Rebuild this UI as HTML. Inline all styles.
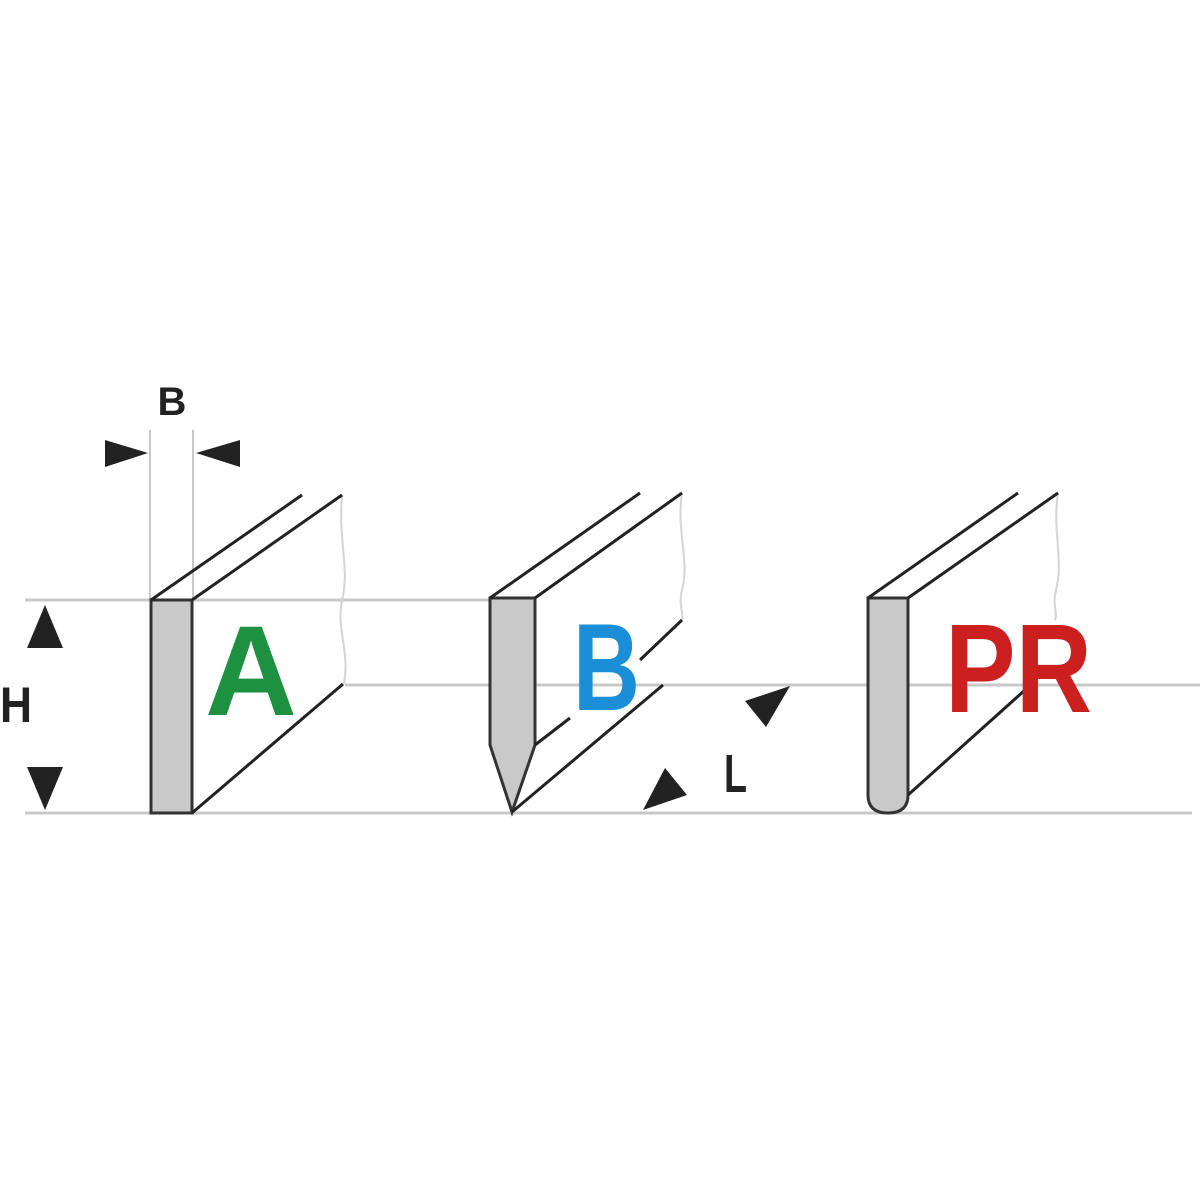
<!DOCTYPE html>
<html><head><meta charset="utf-8"><style>
html,body{margin:0;padding:0;background:#fff;}
svg{display:block;}
text{font-family:"Liberation Sans",sans-serif;font-weight:bold;}
</style></head><body>
<svg width="1200" height="1200" viewBox="0 0 1200 1200">
<rect width="1200" height="1200" fill="#fff"/>
<!-- guide lines -->
<g stroke="#c8c8c8" stroke-width="3" fill="none">
<line x1="25" y1="600" x2="490" y2="600"/>
<line x1="345" y1="685" x2="1200" y2="685"/>
<line x1="25" y1="813" x2="1192" y2="813"/>
<line x1="150" y1="430" x2="150" y2="600" stroke-width="2"/>
<line x1="193" y1="430" x2="193" y2="600" stroke-width="2"/>
</g>
<!-- wavy edges -->
<g stroke="#d4d4d4" stroke-width="2" fill="none">
<path d="M342 495 C338 540 350 570 342 600 C336 630 350 650 344 684"/>
<path d="M682 493 C676 530 690 560 682 590 C678 605 684 612 682 620"/>
<path d="M1058 493 C1052 530 1064 560 1056 590 C1052 605 1058 612 1055 620"/>
</g>
<!-- Blade A -->
<rect x="151" y="600" width="41" height="213" fill="#c9c9c9" stroke="#333" stroke-width="3"/>
<g stroke="#222" stroke-width="3" fill="none">
<line x1="151" y1="600" x2="302" y2="495"/>
<line x1="192" y1="600" x2="342" y2="495"/>
<line x1="192" y1="813" x2="343" y2="684"/>
</g>
<!-- Blade B -->
<path d="M490 598 L535 598 L535 745 L512 812 L490 745 Z" fill="#c9c9c9" stroke="#333" stroke-width="3"/>
<g stroke="#222" stroke-width="3" fill="none">
<line x1="490" y1="598" x2="640" y2="493"/>
<line x1="535" y1="598" x2="682" y2="493"/>
<line x1="535" y1="745" x2="570" y2="718"/>
<line x1="640" y1="660" x2="682" y2="620"/>
<line x1="512" y1="812" x2="663" y2="685"/>
</g>
<!-- Blade PR -->
<path d="M868 598 L908 598 L908 795 Q908 813 888 813 Q868 813 868 795 Z" fill="#c9c9c9" stroke="#333" stroke-width="3"/>
<g stroke="#222" stroke-width="3" fill="none">
<line x1="868" y1="598" x2="1018" y2="493"/>
<line x1="908" y1="598" x2="1058" y2="493"/>
<line x1="908" y1="795" x2="1025" y2="690"/>
</g>
<!-- dimension arrows -->
<g fill="#222">
<polygon points="105,440 148,453 105,467"/>
<polygon points="240,440 196,453 240,467"/>
<polygon points="45,605 27,648 63,648"/>
<polygon points="27,767 63,767 45,810"/>
<polygon points="745,701 790,686 766,727"/>
<polygon points="643,810 665,768 687,795"/>
</g>
<text x="172" y="415" font-size="40" text-anchor="middle" fill="#222">B</text>
<text x="0" y="722" font-size="50" fill="#222" textLength="32" lengthAdjust="spacingAndGlyphs">H</text>
<text x="724" y="792" font-size="54" fill="#222" textLength="23" lengthAdjust="spacingAndGlyphs">L</text>
<!-- letters -->
<text x="205" y="715" font-size="128" fill="#1e9140" textLength="92" lengthAdjust="spacingAndGlyphs">A</text>
<text x="573" y="710" font-size="124" fill="#1a8fd8" textLength="67" lengthAdjust="spacingAndGlyphs">B</text>
<text x="945" y="712" font-size="126" fill="#cc2020" textLength="147" lengthAdjust="spacingAndGlyphs">PR</text>
</svg>
</body></html>
